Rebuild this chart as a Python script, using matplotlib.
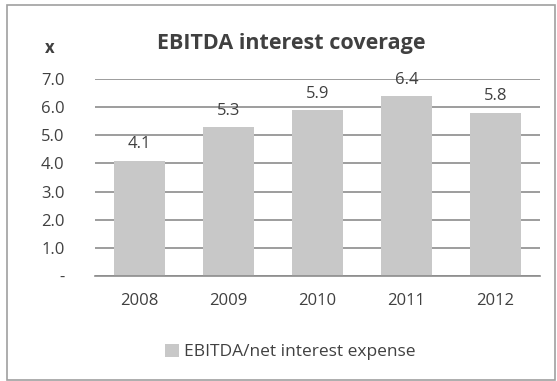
import matplotlib.pyplot as plt
from matplotlib.patches import Rectangle

years = ["2008", "2009", "2010", "2011", "2012"]
coverage = [4.1, 5.3, 5.9, 6.4, 5.8]
y_ticks = [0, 1, 2, 3, 4, 5, 6, 7]
y_labels = ["-", "1.0", "2.0", "3.0", "4.0", "5.0", "6.0", "7.0"]

TEXT = "#404040"
BAR = "#c8c8c8"
GRID = "#8c8c8c"

plt.rcParams["font.family"] = ["Open Sans", "DejaVu Sans"]

W, H = 557, 381
fig = plt.figure(figsize=(W / 100, H / 100), dpi=100)

# outer chart border
fig.patches.append(Rectangle((7 / W, 1 - 380 / H), 548 / W, 375 / H,
                             transform=fig.transFigure, fill=False,
                             edgecolor="#a0a0a0", linewidth=1.2))

ax = fig.add_axes([95 / W, 1 - 276 / H, 445 / W, 197 / H])
x = range(len(years))
ax.bar(x, coverage, width=0.57, color=BAR, zorder=2, label="EBITDA/net interest expense")
ax.set_xlim(-0.5, len(years) - 0.5)
ax.set_ylim(0, 7)
ax.set_yticks(y_ticks)
ax.set_yticklabels(y_labels)
ax.set_xticks(list(x))
ax.set_xticklabels(years)
for s in ["top", "right", "left"]:
    ax.spines[s].set_visible(False)
ax.spines["bottom"].set_color(GRID)
ax.spines["bottom"].set_linewidth(1.2)
ax.yaxis.grid(True, color=GRID, linewidth=1.2, zorder=1)
ax.tick_params(axis="both", length=0, colors=TEXT, labelsize=12)
ax.tick_params(axis="y", pad=22)
ax.tick_params(axis="x", pad=12)

for xi, v in zip(x, coverage):
    ax.annotate(f"{v:.1f}", (xi, v), xytext=(0, 6), textcoords="offset points",
                ha="center", va="bottom", fontsize=12, color=TEXT)

fig.text(291 / W, 1 - 44 / H, "EBITDA interest coverage", ha="center", va="center",
         fontsize=15.5, fontweight="bold", color=TEXT)
fig.text(50 / W, 1 - 48 / H, "x", ha="center", va="center",
         fontsize=12, fontweight="bold", color=TEXT)

fig.legend(loc="center", bbox_to_anchor=(290 / W, 1 - 352 / H), frameon=False,
           fontsize=12.5, labelcolor=TEXT, handlelength=0.8, handleheight=0.8,
           handletextpad=0.3)

fig.savefig("out.png", dpi=100)
